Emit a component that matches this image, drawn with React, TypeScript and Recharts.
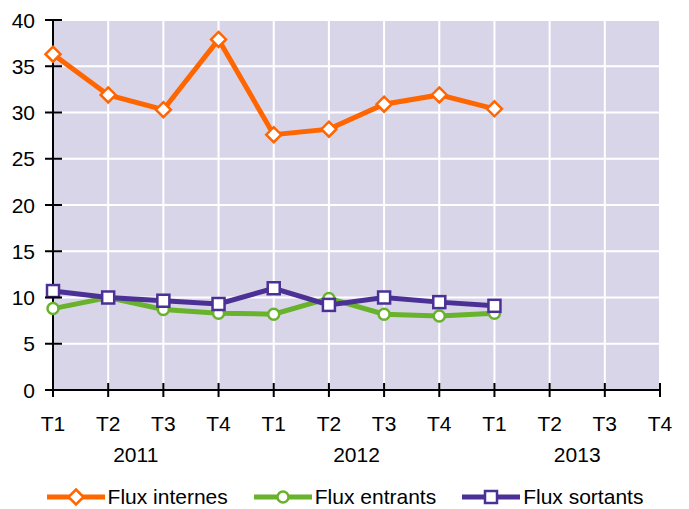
import React from 'react';
import { LineChart, Line, XAxis, YAxis, CartesianGrid, Legend } from 'recharts';

const quarters = ['T1', 'T2', 'T3', 'T4', 'T1', 'T2', 'T3', 'T4', 'T1', 'T2', 'T3', 'T4'];
const years = ['2011', '2012', '2013'];
const fluxInternes = [36.3, 31.9, 30.3, 37.9, 27.6, 28.2, 30.9, 31.9, 30.4];
const fluxEntrants = [8.8, 10.0, 8.7, 8.3, 8.2, 9.9, 8.2, 8.0, 8.3];
const fluxSortants = [10.7, 10.0, 9.65, 9.3, 11.0, 9.2, 10.0, 9.5, 9.1];
const yTicks = [0, 5, 10, 15, 20, 25, 30, 35, 40];

const ORANGE = '#ff6600';
const GREEN = '#68b22c';
const PURPLE = '#4b3195';
const FONT = '"Liberation Sans", Arial, sans-serif';

const data = quarters.map((q, i) => ({
  idx: i,
  q,
  internes: fluxInternes[i] ?? null,
  entrants: fluxEntrants[i] ?? null,
  sortants: fluxSortants[i] ?? null,
}));

const series = [
  { key: 'internes', name: 'Flux internes', color: ORANGE, marker: 'diamond' },
  { key: 'entrants', name: 'Flux entrants', color: GREEN, marker: 'circle' },
  { key: 'sortants', name: 'Flux sortants', color: PURPLE, marker: 'square' },
];

function Marker({ type, cx, cy, color }: any) {
  if (type === 'diamond') {
    const r = 7.5;
    return (
      <polygon
        points={`${cx},${cy - r} ${cx + r},${cy} ${cx},${cy + r} ${cx - r},${cy}`}
        fill="#fff"
        stroke={color}
        strokeWidth={2.5}
      />
    );
  }
  if (type === 'circle') {
    return <circle cx={cx} cy={cy} r={5.5} fill="#fff" stroke={color} strokeWidth={2.5} />;
  }
  return <rect x={cx - 6} y={cy - 6} width={12} height={12} fill="#fff" stroke={color} strokeWidth={2.5} />;
}

const makeDot = (type: string, color: string) => (props: any) => {
  const { cx, cy, value, index } = props;
  if (value == null || cx == null || cy == null) return <g key={index} />;
  return (
    <g key={index}>
      <Marker type={type} cx={cx} cy={cy} color={color} />
    </g>
  );
};

const QuarterTick = (props: any) => {
  const { x, y, payload } = props;
  return (
    <g>
      <line x1={x} y1={y - 7} x2={x} y2={y + 7} stroke="#000" strokeWidth={2} />
      <text x={x} y={y + 41} textAnchor="middle" fontSize={21} fill="#000" fontFamily={FONT}>
        {quarters[payload.index] ?? payload.value}
      </text>
    </g>
  );
};

const YearTick = (props: any) => {
  const { x, y, payload } = props;
  return (
    <text x={x} y={y + 22} textAnchor="middle" fontSize={21} fill="#000" fontFamily={FONT}>
      {years[Math.floor(payload.value / 4)]}
    </text>
  );
};

const ValueTick = (props: any) => {
  const { x, y, payload } = props;
  return (
    <g>
      <line x1={x - 8} y1={y} x2={x + 9} y2={y} stroke="#000" strokeWidth={2} />
      <text x={x - 18} y={y + 7.5} textAnchor="end" fontSize={21} fill="#000" fontFamily={FONT}>
        {payload.value}
      </text>
    </g>
  );
};

const LegendContent = () => (
  <div style={{ display: 'flex', justifyContent: 'center', gap: 25, fontFamily: FONT, fontSize: 21 }}>
    {series.map((s) => (
      <div key={s.key} style={{ display: 'flex', alignItems: 'center' }}>
        <svg width={60} height={20} style={{ marginRight: 2 }}>
          <line x1={1} y1={10} x2={59} y2={10} stroke={s.color} strokeWidth={5} />
          <Marker type={s.marker} cx={30} cy={10} color={s.color} />
        </svg>
        <span style={{ color: '#000' }}>{s.name}</span>
      </div>
    ))}
  </div>
);

export default function App() {
  return (
    <div style={{ position: 'absolute', left: 0, top: 0, background: '#fff' }}>
      <LineChart width={689} height={509} data={data} margin={{ top: 20, right: 29, left: 0, bottom: 0 }}>
        <CartesianGrid stroke="#fff" strokeWidth={2} fill="#d9d5e9" fillOpacity={1} />
        <XAxis
          dataKey="idx"
          type="category"
          height={50}
          tickSize={0}
          tickMargin={0}
          interval={0}
          axisLine={{ stroke: '#000', strokeWidth: 2 }}
          tickLine={false}
          tick={<QuarterTick />}
        />
        <XAxis
          xAxisId="year"
          dataKey="idx"
          type="number"
          domain={[0, 11]}
          ticks={[1.5, 5.5, 9.5]}
          height={69}
          tickSize={0}
          tickMargin={0}
          axisLine={false}
          tickLine={false}
          tick={<YearTick />}
        />
        <YAxis
          width={53}
          domain={[0, 40]}
          ticks={yTicks}
          tickSize={0}
          tickMargin={0}
          interval={0}
          axisLine={{ stroke: '#000', strokeWidth: 2 }}
          tickLine={false}
          tick={<ValueTick />}
        />
        <Legend
          layout="horizontal"
          verticalAlign="middle"
          wrapperStyle={{ top: 485, left: 0, width: 689 }}
          content={<LegendContent />}
        />
        {series.map((s) => (
          <Line
            key={s.key}
            dataKey={s.key}
            name={s.name}
            stroke={s.color}
            strokeWidth={5}
            dot={makeDot(s.marker, s.color)}
            activeDot={false}
            isAnimationActive={false}
            connectNulls={false}
          />
        ))}
      </LineChart>
    </div>
  );
}
